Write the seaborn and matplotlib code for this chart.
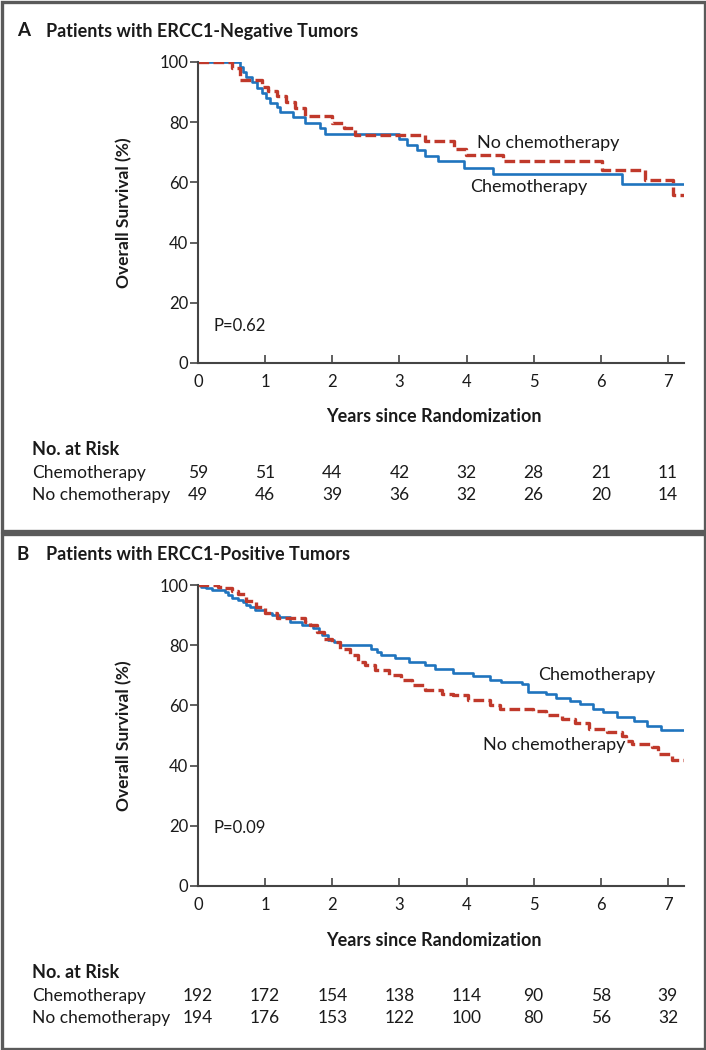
import matplotlib
matplotlib.use("Agg")
import matplotlib.pyplot as plt
import matplotlib.transforms as mtransforms
from matplotlib.patches import Rectangle
import seaborn as sns

# ----------------------------------
# Data
# ----------------------------------
years = [0, 1, 2, 3, 4, 5, 6, 7]
y_ticks = [0, 20, 40, 60, 80, 100]

# Panel A: ERCC1-negative
a_chemo_t = [0, 0.62, 0.67, 0.72, 0.80, 0.88, 0.95, 1.02, 1.07, 1.17, 1.22, 1.42, 1.59,
             1.82, 1.89, 2.99, 3.12, 3.26, 3.38, 3.58, 3.97, 4.40, 6.31, 7.24]
a_chemo_s = [100, 98.3, 96.6, 94.9, 93.2, 91.5, 89.8, 88.1, 86.4, 85.0, 83.3, 81.6, 79.8,
             78.1, 76.2, 74.3, 72.5, 70.6, 68.8, 67.0, 64.9, 62.8, 59.6, 59.6]
a_nochemo_t = [0, 0.50, 0.62, 0.95, 1.05, 1.17, 1.31, 1.45, 1.59, 1.99, 2.17, 2.34, 3.38,
               3.81, 3.99, 4.55, 6.02, 6.66, 7.08, 7.24]
a_nochemo_s = [100, 98.0, 93.9, 91.8, 90.2, 88.6, 86.7, 84.7, 81.9, 79.6, 78.1, 75.9, 73.6,
               71.2, 69.2, 67.0, 64.0, 60.8, 55.8, 55.8]
a_risk_chemo = [59, 51, 44, 42, 32, 28, 21, 11]
a_risk_nochemo = [49, 46, 39, 36, 32, 26, 20, 14]

# Panel B: ERCC1-positive
b_chemo_t = [0, 0.05, 0.12, 0.21, 0.40, 0.45, 0.51, 0.60, 0.67, 0.72, 0.78, 0.85, 1.00,
             1.10, 1.20, 1.37, 1.55, 1.72, 1.80, 1.84, 1.94, 2.03, 2.12, 2.58, 2.66, 2.72,
             2.94, 3.14, 3.38, 3.53, 3.80, 4.10, 4.35, 4.52, 4.82, 4.92, 5.19, 5.34, 5.54,
             5.69, 5.89, 6.04, 6.24, 6.49, 6.69, 6.89, 7.24]
b_chemo_s = [100, 99.5, 99.0, 98.3, 97.8, 96.6, 95.6, 95.0, 94.4, 93.3, 92.7, 91.7, 90.6,
             90.0, 89.4, 87.8, 86.7, 85.6, 84.4, 83.3, 81.7, 81.1, 80.0, 78.9, 77.8, 76.7,
             75.6, 74.4, 73.3, 72.2, 70.6, 69.7, 68.6, 67.8, 67.2, 64.4, 63.7, 62.6, 61.4,
             60.6, 58.9, 57.8, 56.1, 54.7, 53.3, 51.9, 51.9]
b_nochemo_t = [0, 0.30, 0.40, 0.50, 0.60, 0.72, 0.87, 1.00, 1.17, 1.60, 1.67, 1.77, 1.87,
               1.99, 2.12, 2.26, 2.39, 2.49, 2.64, 2.84, 3.02, 3.19, 3.38, 3.63, 3.80, 4.02,
               4.35, 4.50, 4.99, 5.19, 5.42, 5.62, 5.82, 6.10, 6.31, 6.38, 6.46, 6.76, 6.86,
               7.06, 7.24]
b_nochemo_s = [100, 99.5, 99.0, 97.9, 96.9, 94.8, 92.8, 90.6, 88.9, 87.8, 86.7, 84.4, 82.2,
               81.1, 78.9, 76.7, 74.4, 73.3, 71.7, 70.0, 68.3, 66.7, 65.0, 63.9, 63.3, 61.7,
               60.0, 58.9, 58.3, 56.7, 55.6, 54.1, 52.2, 51.1, 50.0, 48.3, 47.2, 46.1, 43.9,
               41.7, 41.7]
b_risk_chemo = [192, 172, 154, 138, 114, 90, 58, 39]
b_risk_nochemo = [194, 176, 153, 122, 100, 80, 56, 32]

BLUE = "#1f74be"
RED = "#c0392b"
TXT = "#1a1a1a"
AX = "#444444"

sns.set_style("ticks")
plt.rcParams["font.family"] = ["Lato", "DejaVu Sans"]

W, H = 706, 1050
fig = plt.figure(figsize=(W / 100, H / 100), dpi=100)


def fx(px):
    return px / W


def fy(py):
    return 1 - py / H


def panel(top_px, letter, title, chemo_t, chemo_s, no_t, no_s, risk_c, risk_n,
          pval, p_y, lab_chemo, lab_no):
    bottom_px = top_px + 301
    ax = fig.add_axes([fx(198), fy(bottom_px), fx(684) - fx(198), 301 / H])

    sns.lineplot(x=chemo_t, y=chemo_s, ax=ax, color=BLUE, linewidth=1.9,
                 drawstyle="steps-post", estimator=None)
    sns.lineplot(x=no_t, y=no_s, ax=ax, color=RED, linewidth=2.4,
                 drawstyle="steps-post", estimator=None, linestyle=(0, (3.2, 1.3)))

    ax.set_xlim(0, 7.24)
    ax.set_ylim(0, 100)
    ax.set_xticks(years)
    ax.set_yticks(y_ticks)
    sns.despine(ax=ax)
    for s in ["left", "bottom"]:
        ax.spines[s].set_color(AX)
        ax.spines[s].set_linewidth(1.5)
    ax.tick_params(axis="y", direction="out", length=6, width=1.2, color=AX,
                   pad=1, labelsize=12, labelcolor=TXT)
    ax.tick_params(axis="x", direction="in", length=6, width=1.2, color=AX,
                   pad=8, labelsize=12, labelcolor=TXT)

    ax.set_ylabel("Overall Survival (%)", fontsize=12.5, fontweight="bold", color=TXT)
    ax.yaxis.set_label_coords((132 - 198) / 486, 0.5)
    ax.set_xlabel("Years since Randomization", fontsize=13, fontweight="bold", color=TXT)
    ax.xaxis.label.set_va("center")
    ax.xaxis.set_label_coords(0.485, -54 / 301)

    ax.text(0.23, p_y, pval, fontsize=12, color=TXT, va="center")
    ax.text(lab_chemo[0], lab_chemo[1], "Chemotherapy", fontsize=13, color=TXT, va="center")
    ax.text(lab_no[0], lab_no[1], "No chemotherapy", fontsize=13, color=TXT, va="center")

    # panel title
    ty = fy(top_px - 31)
    fig.text(fx(17), ty, letter, fontsize=13.5, fontweight="bold", color=TXT, va="center")
    fig.text(fx(46), ty, title, fontsize=13, fontweight="bold", color=TXT, va="center")

    # numbers at risk
    lab_tr = mtransforms.blended_transform_factory(fig.transFigure, ax.transAxes)
    num_tr = mtransforms.blended_transform_factory(ax.transData, ax.transAxes)
    ax.text(fx(32), -87 / 301, "No. at Risk", transform=lab_tr, fontsize=13,
            fontweight="bold", color=TXT, va="center")
    ax.text(fx(32), -110 / 301, "Chemotherapy", transform=lab_tr, fontsize=12.5,
            color=TXT, va="center")
    ax.text(fx(32), -132 / 301, "No chemotherapy", transform=lab_tr, fontsize=12.5,
            color=TXT, va="center")
    for yr, c, n in zip(years, risk_c, risk_n):
        ax.text(yr, -110 / 301, str(c), transform=num_tr, fontsize=12.5, color=TXT,
                ha="center", va="center")
        ax.text(yr, -132 / 301, str(n), transform=num_tr, fontsize=12.5, color=TXT,
                ha="center", va="center")
    return ax


panel(62, "A", "Patients with ERCC1-Negative Tumors",
      a_chemo_t, a_chemo_s, a_nochemo_t, a_nochemo_s, a_risk_chemo, a_risk_nochemo,
      "P=0.62", 12.3, (4.05, 58.6), (4.16, 73.2))
panel(585, "B", "Patients with ERCC1-Positive Tumors",
      b_chemo_t, b_chemo_s, b_nochemo_t, b_nochemo_s, b_risk_chemo, b_risk_nochemo,
      "P=0.09", 19.3, (5.07, 70.1), (4.25, 46.8))

# panel frames
fig.add_artist(Rectangle((fx(1.5), fy(530.5)), fx(703), 529 / H, transform=fig.transFigure,
                         fill=False, edgecolor="#5a5a5a", linewidth=2.4))
fig.add_artist(Rectangle((fx(1.5), fy(1048.5)), fx(703), 515 / H, transform=fig.transFigure,
                         fill=False, edgecolor="#5a5a5a", linewidth=2.4))

fig.savefig("out.png", dpi=100)
